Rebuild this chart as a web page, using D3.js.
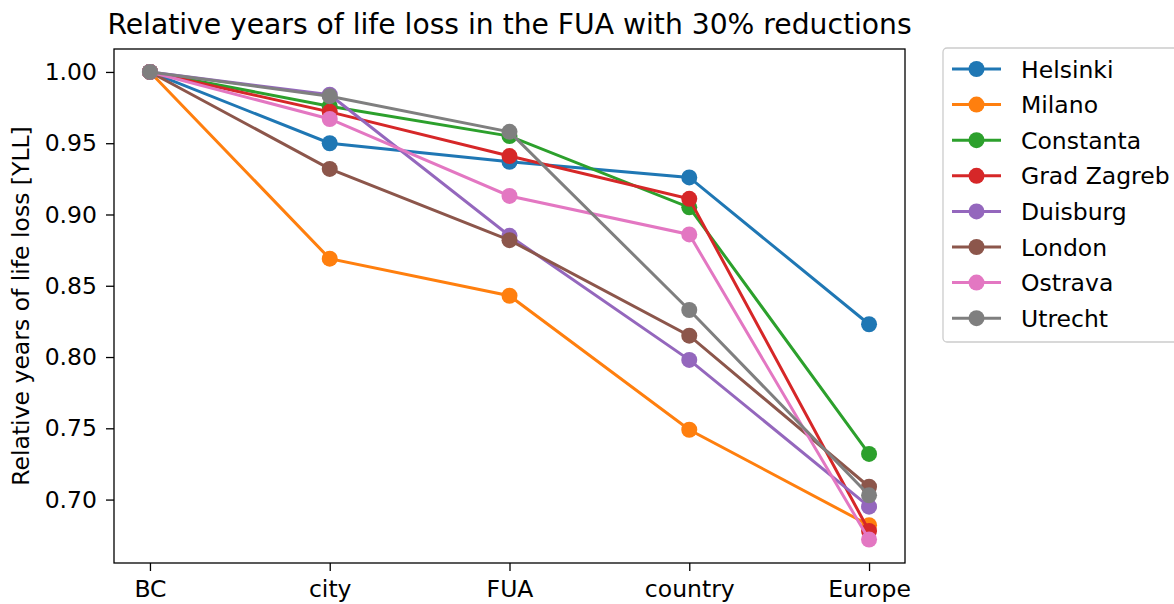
<!DOCTYPE html>
<html>
<head>
<meta charset="utf-8">
<script src="https://cdn.jsdelivr.net/npm/d3@7"></script>
<style>
body { margin: 0; background: #fff; }
svg text { font-family: "DejaVu Sans", sans-serif; fill: #000; }
</style>
</head>
<body>
<svg id="chart" width="1174" height="604"></svg>
<script>
// data
var categories = ['BC', 'city', 'FUA', 'country', 'Europe'];
var cities = ['Helsinki', 'Milano', 'Constanta', 'Grad Zagreb', 'Duisburg', 'London', 'Ostrava', 'Utrecht'];
var helsinki = [1.0, 0.950, 0.937, 0.926, 0.823];
var milano = [1.0, 0.869, 0.843, 0.749, 0.682];
var constanta = [1.0, 0.976, 0.955, 0.905, 0.732];
var zagreb = [1.0, 0.972, 0.941, 0.911, 0.678];
var duisburg = [1.0, 0.984, 0.885, 0.798, 0.695];
var london = [1.0, 0.932, 0.882, 0.815, 0.709];
var ostrava = [1.0, 0.967, 0.913, 0.886, 0.672];
var utrecht = [1.0, 0.983, 0.958, 0.833, 0.703];
var yTicks = [0.70, 0.75, 0.80, 0.85, 0.90, 0.95, 1.00];

var series = [helsinki, milano, constanta, zagreb, duisburg, london, ostrava, utrecht];
var colors = ['#1f77b4', '#ff7f0e', '#2ca02c', '#d62728', '#9467bd', '#8c564b', '#e377c2', '#7f7f7f'];

// layout
var plotLeft = 114, plotRight = 905, plotTop = 49, plotBottom = 563;
var fontSize = 23.5;

var svg = d3.select('#chart');

var x = d3.scalePoint()
	.domain(categories)
	.range([plotLeft, plotRight])
	.padding(0.2);
var y = d3.scaleLinear()
	.domain([0.6555, 1.0161])
	.range([plotBottom, plotTop]);

// title
svg.append('text')
	.attr('x', (plotLeft + plotRight) / 2)
	.attr('y', 34)
	.attr('text-anchor', 'middle')
	.style('font-size', (fontSize * 1.2) + 'px')
	.text('Relative years of life loss in the FUA with 30% reductions');

// axes
var xAxis = svg.append('g')
	.attr('transform', 'translate(0,' + plotBottom + ')')
	.call(d3.axisBottom(x).tickSize(8).tickPadding(9));
xAxis.selectAll('text').style('font-size', fontSize + 'px');

var yAxis = svg.append('g')
	.attr('transform', 'translate(' + plotLeft + ',0)')
	.call(d3.axisLeft(y).tickValues(yTicks).tickFormat(d3.format('.2f')).tickSize(8).tickPadding(9));
yAxis.selectAll('text').style('font-size', fontSize + 'px');

svg.selectAll('.domain').remove();
svg.selectAll('.tick line').attr('stroke', '#000').attr('stroke-width', 1.3);

svg.append('text')
	.attr('transform', 'translate(29,' + ((plotTop + plotBottom) / 2) + ') rotate(-90)')
	.attr('text-anchor', 'middle')
	.style('font-size', fontSize + 'px')
	.text('Relative years of life loss [YLL]');

// lines
var line = d3.line()
	.x(function(d, i) { return x(categories[i]); })
	.y(function(d) { return y(d); });

var plot = svg.append('g');
series.forEach(function(values, s) {
	var g = plot.append('g');
	g.append('path')
		.attr('d', line(values))
		.attr('fill', 'none')
		.attr('stroke', colors[s])
		.attr('stroke-width', 3);
	g.selectAll('circle')
		.data(values)
		.enter().append('circle')
		.attr('cx', function(d, i) { return x(categories[i]); })
		.attr('cy', function(d) { return y(d); })
		.attr('r', 8)
		.attr('fill', colors[s]);
});

// frame
svg.append('rect')
	.attr('x', plotLeft)
	.attr('y', plotTop)
	.attr('width', plotRight - plotLeft)
	.attr('height', plotBottom - plotTop)
	.attr('fill', 'none')
	.attr('stroke', '#000')
	.attr('stroke-width', 1.3);

// legend
var legend = svg.append('g');
legend.append('rect')
	.attr('x', 943)
	.attr('y', 48)
	.attr('width', 260)
	.attr('height', 294)
	.attr('rx', 4)
	.attr('fill', '#fff')
	.attr('stroke', '#ccc')
	.attr('stroke-width', 1.3);
cities.forEach(function(name, i) {
	var ly = 69 + i * 35.6;
	legend.append('line')
		.attr('x1', 952).attr('x2', 1001)
		.attr('y1', ly).attr('y2', ly)
		.attr('stroke', colors[i])
		.attr('stroke-width', 3);
	legend.append('circle')
		.attr('cx', 976.5).attr('cy', ly)
		.attr('r', 8)
		.attr('fill', colors[i]);
	legend.append('text')
		.attr('x', 1021)
		.attr('y', ly + 8.5)
		.style('font-size', fontSize + 'px')
		.text(name);
});
</script>
</body>
</html>
